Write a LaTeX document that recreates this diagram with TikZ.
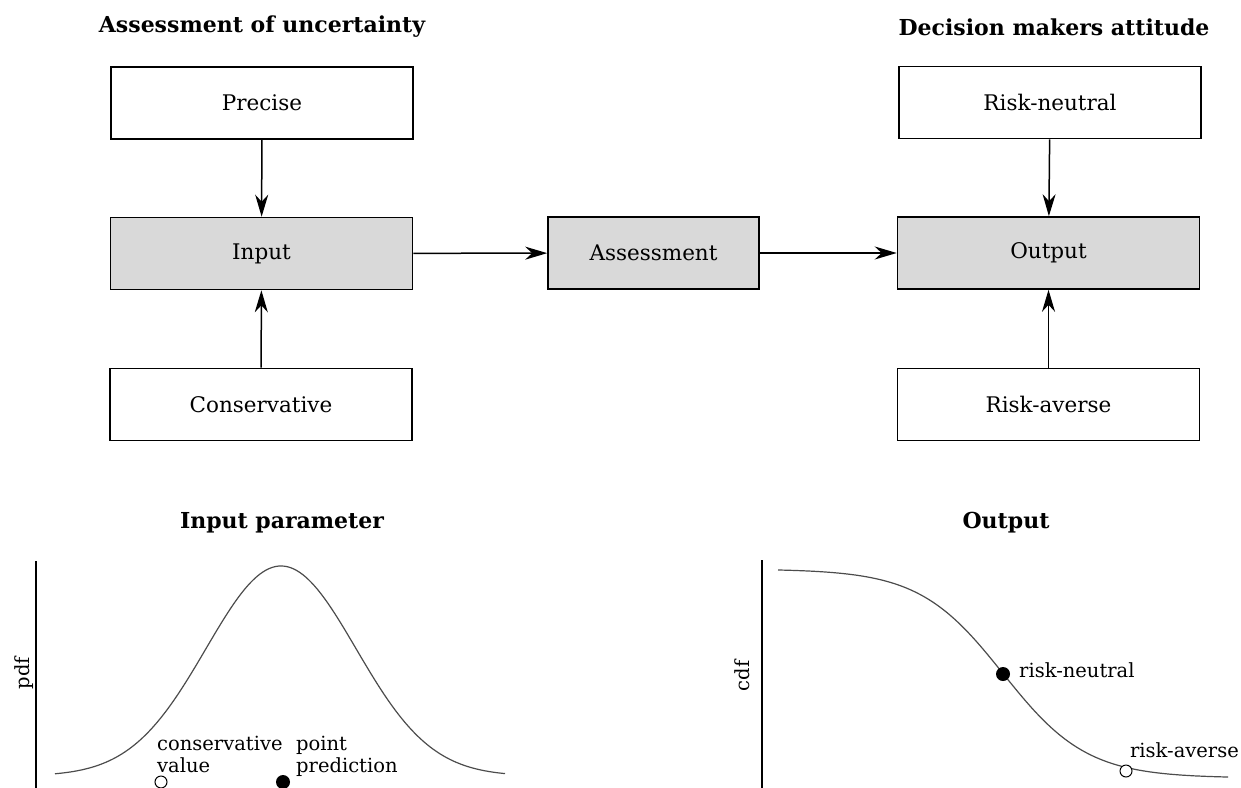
\documentclass[tikz,border=0pt]{standalone}
\usepackage{fontspec}
\setmainfont{DejaVu Serif}
\usetikzlibrary{arrows.meta}
\definecolor{boxgray}{HTML}{D9D9D9}
\begin{document}
\begin{tikzpicture}[x=1pt,y=-1pt,
  box/.style={draw=black, line width=1.6pt, minimum width=302pt, minimum height=72pt, inner sep=0pt, font=\fontsize{21.5}{25}\selectfont},
  gbox/.style={box, fill=boxgray},
  ttl/.style={font=\fontsize{22}{26}\selectfont\bfseries, inner sep=0pt},
  lbl/.style={font=\fontsize{19.5}{22}\selectfont, inner sep=0pt},
  arr/.style={-{Stealth[length=22pt,width=13pt,inset=7pt]}, line width=1.5pt},
  curve/.style={draw=black!70, line width=1.2pt},
  axis/.style={line width=1.6pt},
  fdot/.style={circle, fill=black, minimum size=14pt, inner sep=0pt},
  odot/.style={circle, draw=black, fill=white, line width=1pt, minimum size=12pt, inner sep=0pt},
  ]
\useasboundingbox (0,0) rectangle (1241,787);
% titles
\node[ttl] (t1) at (262,27) {Assessment of uncertainty};
\node[ttl] (t2) at (1054,27) {Decision makers attitude};
% boxes
\node[box]  (precise) at (262,103) {Precise};
\node[gbox] (input) at (261.5,253.5) {Input};
\node[box]  (cons) at (261,404.5) {Conservative};
\node[gbox, minimum width=211pt] (assess) at (653.5,253) {Assessment};
\node[box]  (rn) at (1050,102.5) {Risk-neutral};
\node[gbox] (output) at (1048.5,253) {Output};
\node[box]  (ra) at (1048.5,404.5) {Risk-averse};
% arrows
\draw[arr] (precise) -- (input);
\draw[arr] (cons) -- (input);
\draw[arr] (input) -- (assess);
\draw[arr] (assess) -- (output);
\draw[arr] (rn) -- (output);
\draw[arr] (ra) -- (output);
% lower titles
\node[ttl] (t3) at (282,523) {Input parameter};
\node[ttl] (t4) at (1006,523) {Output};
% pdf plot
\coordinate (pa1) at (36,561);
\coordinate (pa2) at (36,790);
\draw[axis] (pa1) -- (pa2);
\node[lbl, rotate=90] (pdf) at (24,673) {pdf};
\draw[curve] plot[domain=55:505, samples=150, smooth] (\x, {776-210*exp(-0.5*((\x-281)/75)^2)});
\node[odot] (cv) at (161,782) {};
\node[fdot] (pp) at (283,782) {};
\node[lbl, anchor=west, align=left] (cvl) at (157,754) {conservative\\value};
\node[lbl, anchor=west, align=left] (ppl) at (296,756) {point\\prediction};
% cdf plot
\coordinate (ca1) at (762,560);
\coordinate (ca2) at (762,790);
\draw[axis] (ca1) -- (ca2);
\node[lbl, rotate=90] (cdf) at (742,676) {cdf};
\draw[curve] plot[domain=778:1228, samples=150, smooth] (\x, {569+209/(1+exp(-(\x-1003)/42))});
\node[fdot] (rnd) at (1003,674) {};
\node[odot] (rad) at (1126,771) {};
\node[lbl, anchor=west] (rnl) at (1019,670) {risk-neutral};
\node[lbl, anchor=east] (ral) at (1239,750) {risk-averse};
\end{tikzpicture}
\end{document}
